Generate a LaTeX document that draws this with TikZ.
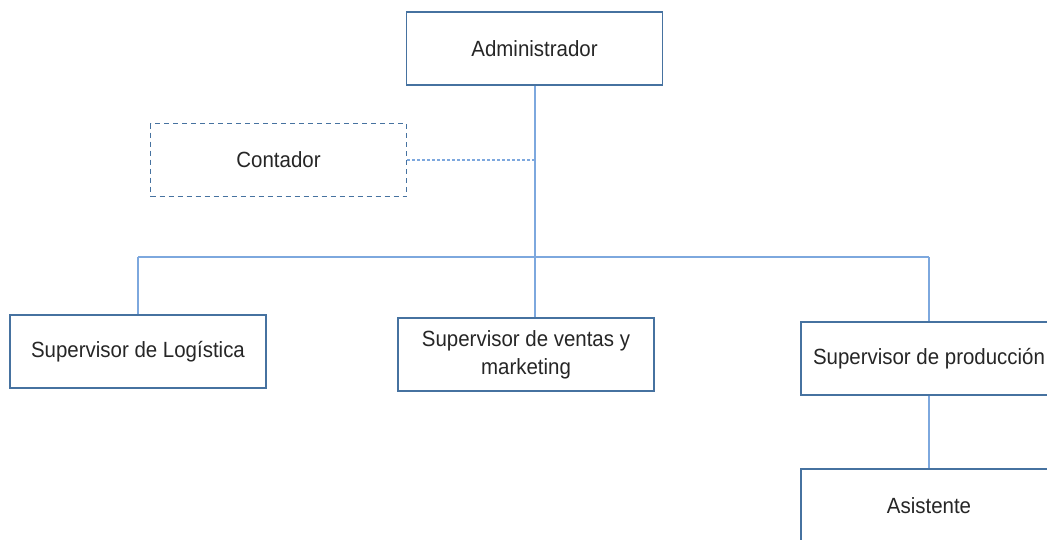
\documentclass[tikz,border=0pt]{standalone}
\usepackage{fontspec}
\setmainfont{Liberation Sans}[FakeStretch=0.93]
\definecolor{boxc}{RGB}{70,114,160}
\definecolor{linec}{RGB}{125,168,222}
\begin{document}
\begin{tikzpicture}[x=1pt,y=-1pt,
  box/.style={draw=boxc, line width=1.5pt, fill=white, minimum width=256pt, minimum height=73pt,
    inner sep=0pt, font=\fontsize{22}{28}\selectfont, align=center, text=black!85},
  dbox/.style={box, dash pattern=on 5pt off 4pt},
  conn/.style={draw=linec, line width=1.6pt}]
\useasboundingbox (0,0) rectangle (1047,539);
\node[box]  (admin) at (534.5,48.5) {Administrador};
\node[dbox] (cont)  at (278.5,160) {Contador};
\node[box]  (logi)  at (138,351.5) {Supervisor de Logística};
\node[box]  (vent)  at (526,354.5) {Supervisor de ventas y\\marketing};
\node[box]  (prod)  at (929,358.5) {Supervisor de producción};
\node[box]  (asis)  at (929,505.5) {Asistente};
\coordinate (j)  at (535,257);
\coordinate (jl) at (138,257);
\coordinate (jr) at (929,257);
\draw[conn] (admin.south -| j) -- (j);
\draw[conn] (jl) -- (jr);
\draw[conn] (jl) -- (logi.north);
\draw[conn] (j) -- (j |- vent.north);
\draw[conn] (jr) -- (prod.north);
\draw[conn] (prod.south) -- (asis.north);
\draw[conn, dash pattern=on 3pt off 2pt] (cont.east) -- (cont.east -| j);
\end{tikzpicture}
\end{document}
